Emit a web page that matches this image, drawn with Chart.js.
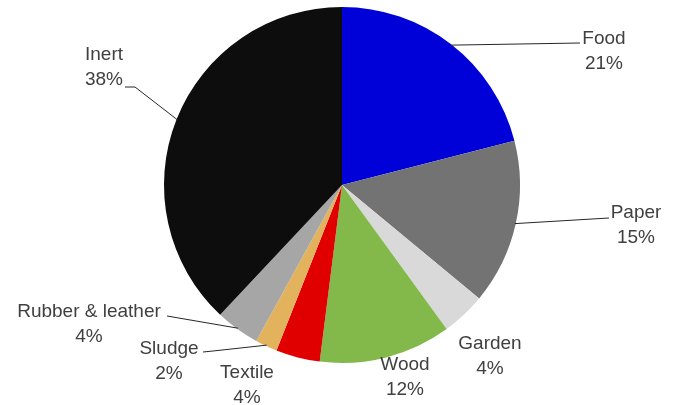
<!DOCTYPE html>
<html lang="en">
<head>
    <meta charset="UTF-8">
    <title>Waste composition</title>
    <style>
        html, body { margin: 0; padding: 0; background: #fff; }
        #wrap { width: 680px; height: 405px; position: relative; }
    </style>
</head>
<body>
<div id="wrap">
    <canvas id="wasteChart"></canvas>
</div>
<script src="https://cdn.jsdelivr.net/npm/chart.js"></script>
<script>
    // Composicion de residuos (%)
    const categories = ['Food', 'Paper', 'Garden', 'Wood', 'Textile', 'Sludge', 'Rubber & leather', 'Inert'];
    const shares = [21, 15, 4, 12, 4, 2, 4, 38];
    const sliceColors = ['#0000d8', '#737373', '#d9d9d9', '#83b84a', '#e00000', '#e2b25c', '#a6a6a6', '#0d0d0d'];

    // donde va cada etiqueta (centro del texto) y el recorrido de la linea guia
    const labelSpots = [
        { x: 604, y: 39, path: [[580, 43]] },
        { x: 636, y: 213, path: [[609, 218]] },
        { x: 490, y: 344, path: null },
        { x: 405, y: 365, path: null },
        { x: 247, y: 373, path: null },
        { x: 169, y: 349, path: [[213, 351], [203, 352]] },
        { x: 89, y: 312, path: [[167, 316]] },
        { x: 104, y: 55, path: [[135, 87], [125, 87]] }
    ];

    const sliceLabels = {
        id: 'sliceLabels',
        afterDatasetsDraw(chart) {
            const ctx = chart.ctx;
            const arcs = chart.getDatasetMeta(0).data;
            ctx.save();
            arcs.forEach((arc, i) => {
                const spot = labelSpots[i];
                const mid = (arc.startAngle + arc.endAngle) / 2;
                if (spot.path) {
                    ctx.beginPath();
                    ctx.moveTo(arc.x + Math.cos(mid) * (arc.outerRadius - 1), arc.y + Math.sin(mid) * (arc.outerRadius - 1));
                    spot.path.forEach(p => ctx.lineTo(p[0], p[1]));
                    ctx.strokeStyle = '#262626';
                    ctx.lineWidth = 1;
                    ctx.stroke();
                }
                ctx.fillStyle = '#404040';
                ctx.font = '19px "Liberation Sans", Arial, sans-serif';
                ctx.textAlign = 'center';
                ctx.textBaseline = 'middle';
                ctx.fillText(categories[i], spot.x, spot.y);
                ctx.fillText(shares[i] + '%', spot.x, spot.y + 25);
            });
            ctx.restore();
        }
    };

    new Chart(document.getElementById('wasteChart'), {
        type: 'pie',
        data: {
            labels: categories,
            datasets: [{
                data: shares,
                backgroundColor: sliceColors,
                borderWidth: 0
            }]
        },
        options: {
            responsive: true,
            maintainAspectRatio: false,
            animation: false,
            layout: { padding: { left: 164, right: 160, top: 7, bottom: 42 } },
            plugins: {
                legend: { display: false },
                tooltip: { enabled: false }
            }
        },
        plugins: [sliceLabels]
    });
</script>
</body>
</html>
